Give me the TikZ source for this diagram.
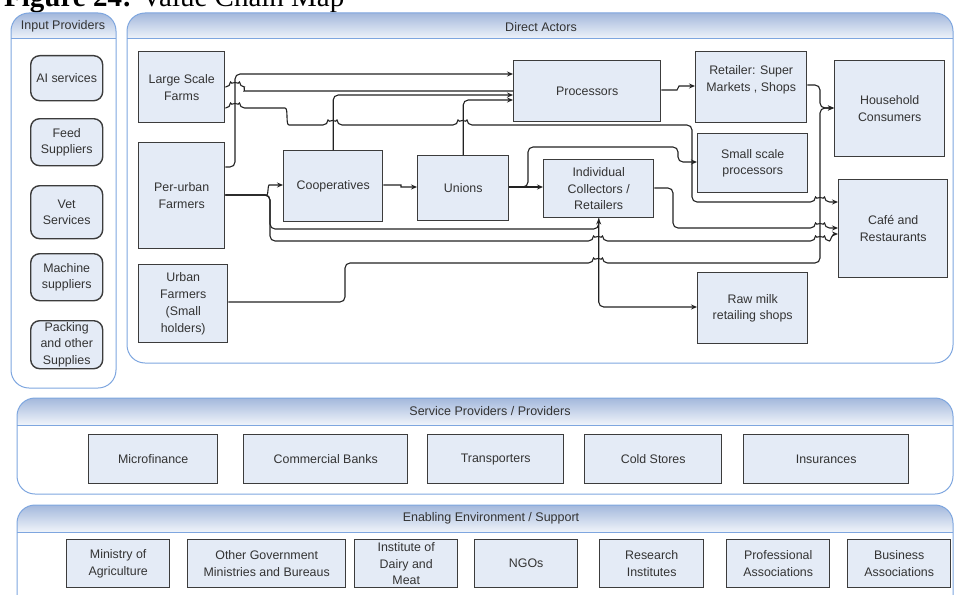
\documentclass[tikz,border=0pt]{standalone}
\usepackage{fontspec}
\setmainfont{Liberation Sans}
\newfontfamily\titlefont{Liberation Serif}
\usetikzlibrary{arrows.meta}

\definecolor{boxfill}{HTML}{E4EBF6}
\definecolor{boxline}{HTML}{3C3C3C}
\definecolor{flowc}{HTML}{222222}
\definecolor{panelc}{HTML}{7EA6DF}
\definecolor{hdrtop}{HTML}{A3B8DC}
\definecolor{hdrbot}{HTML}{F0F4FA}
\definecolor{txt}{HTML}{333333}

\tikzset{
  actor/.style={draw=boxline, fill=boxfill, line width=1.4pt, text=txt,
    align=center, inner sep=0pt, anchor=north west,
    font=\fontsize{12.4}{16.8}\selectfont},
  inbox/.style={actor, rounded corners=9pt},
  flow/.style={draw=flowc, line width=1.1pt, rounded corners=5pt},
  arr/.style={-{Stealth[length=6pt,width=5pt]}},
  panelline/.style={draw=panelc, line width=1pt},
  hdrtext/.style={text=txt, font=\fontsize{12.5}{15}\selectfont}
}

% a panel with a shaded header strip: corners, header bottom
\newcommand\panelbox[5]{%
  \begin{scope}
    \clip[rounded corners=18pt] (#1,#2) rectangle (#3,#4);
    \shade[top color=hdrtop, bottom color=hdrbot] (#1,#2) rectangle (#3,#5);
  \end{scope}
  \draw[panelline, rounded corners=18pt] (#1,#2) rectangle (#3,#4);
  \draw[panelline] (#1,#5) -- (#3,#5);
}

\begin{document}
\begin{tikzpicture}[x=1pt,y=-1pt]
\useasboundingbox (0,0) rectangle (955,594);

% caption
\node[anchor=base west, inner sep=0pt, font=\titlefont\fontsize{29}{32}\selectfont]
  (title) at (4,7) {\textbf{Figure 24:} Value Chain Map};

% panels
\panelbox{11}{13}{116}{388}{39}
\panelbox{127}{13}{953}{363}{39}
\panelbox{17}{398}{953}{494}{425}
\panelbox{17}{505}{953}{625}{532}

\node[hdrtext] (hin)  at (63,26)  {Input Providers};
\node[hdrtext] (hda)  at (541,27) {Direct Actors};
\node[hdrtext] (hsp)  at (490,411) {Service Providers / Providers};
\node[hdrtext] (hee)  at (491,518) {Enabling Environment / Support};

% input providers
\node[inbox, minimum width=72pt, minimum height=45pt] (ai)   at (30,55)  {AI services};
\node[inbox, minimum width=72pt, minimum height=47pt] (feed) at (30,118) {Feed\\Suppliers};
\node[inbox, minimum width=72pt, minimum height=53pt] (vet)  at (30,185) {Vet\\Services};
\node[inbox, minimum width=72pt, minimum height=47pt] (mach) at (30,253) {Machine\\suppliers};
\node[inbox, minimum width=72pt, minimum height=48pt] (pack) at (30,320) {Packing\\and other\\Supplies};

% direct actors
\node[actor, minimum width=86pt,  minimum height=71pt]  (lsf)  at (138,51)  {Large Scale\\Farms};
\node[actor, minimum width=86pt,  minimum height=106pt] (pu)   at (138,142) {Per-urban\\Farmers};
\node[actor, minimum width=89pt,  minimum height=78pt]  (uf)   at (138,264) {Urban\\Farmers\\(Small\\holders)};
\node[actor, minimum width=99pt,  minimum height=71pt]  (coop) at (283,150) {Cooperatives};
\node[actor, minimum width=91pt,  minimum height=65pt]  (uni)  at (417,155) {Unions};
\node[actor, minimum width=147pt, minimum height=61pt]  (proc) at (513,60)  {Processors};
\node[actor, minimum width=111pt, minimum height=71pt]  (ret)  at (695,51)  {Retailer: Super\\Markets , Shops\\\mbox{}};
\node[actor, minimum width=110pt, minimum height=96pt]  (hh)   at (834,60)  {Household\\Consumers};
\node[actor, minimum width=110pt, minimum height=59pt]  (ssp)  at (697,133) {Small scale\\processors};
\node[actor, minimum width=110pt, minimum height=58pt]  (coll) at (543,159) {Individual\\Collectors /\\Retailers};
\node[actor, minimum width=109pt, minimum height=98pt]  (cafe) at (838,179) {Café and\\Restaurants};
\node[actor, minimum width=110pt, minimum height=71pt]  (raw)  at (697,272) {Raw milk\\retailing shops};

% service providers
\node[actor, minimum width=129pt, minimum height=49pt] (mf)   at (88,434)  {Microfinance};
\node[actor, minimum width=164pt, minimum height=49pt] (cb)   at (243,434) {Commercial Banks};
\node[actor, minimum width=136pt, minimum height=49pt] (tr)   at (427,434) {Transporters};
\node[actor, minimum width=137pt, minimum height=49pt] (cs)   at (584,434) {Cold Stores};
\node[actor, minimum width=165pt, minimum height=49pt] (ins)  at (743,434) {Insurances};

% enabling environment
\node[actor, minimum width=103pt, minimum height=48pt] (moa)  at (66,539)  {Ministry of\\Agriculture};
\node[actor, minimum width=158pt, minimum height=48pt] (ogm)  at (187,539) {Other Government\\Ministries and Bureaus};
\node[actor, minimum width=103pt, minimum height=48pt] (idm)  at (354,539) {Institute of\\Dairy and\\Meat};
\node[actor, minimum width=103pt, minimum height=48pt] (ngo)  at (474,539) {NGOs};
\node[actor, minimum width=104pt, minimum height=48pt] (ri)   at (599,539) {Research\\Institutes};
\node[actor, minimum width=103pt, minimum height=48pt] (pa)   at (726,539) {Professional\\Associations};
\node[actor, minimum width=103pt, minimum height=48pt] (ba)   at (847,539) {Business\\Associations};

% flows between direct actors
\draw[flow, arr] (pu.east |- 0,167) -- (235,167) -- (235,74) -- (proc.west |- 0,74);
\draw[flow] (lsf.east |- 0,87) -- (230.5,87) arc[start angle=180, end angle=0, radius=4.5pt]
  to[out=0, in=180] (249,91) -- (proc.west |- 0,91);
\draw[flow, arr] (lsf.east |- 0,108) -- (230.5,108) arc[start angle=180, end angle=0, radius=4.5pt]
  -- (280,108) to[out=0, in=180] (294,125)
  -- (328,125) arc[start angle=180, end angle=0, radius=4.5pt]
  -- (458,125) arc[start angle=180, end angle=0, radius=4.5pt]
  -- (692,125) -- (692,202)
  -- (815.5,202) arc[start angle=180, end angle=0, radius=4.5pt] -- (cafe.west |- 0,202);
\draw[flow, arr] (pu.east |- 0,195) -- (262,195) to[out=0, in=180] (274,185) -- (coop.west |- 0,185);
\draw[flow, arr] (pu.east |- 0,195) -- (270,195) -- (270,229) -- (coll.south |- 0,229) -- (coll.south);
\draw[flow, arr] (pu.east |- 0,195) -- (270,195) -- (270,241)
  -- (593.5,241) arc[start angle=180, end angle=0, radius=4.5pt]
  -- (815.5,241) arc[start angle=180, end angle=0, radius=4.5pt]
  to[out=0, in=180] (cafe.west |- 0,234);
\draw[flow, arr] (coop.east |- 0,185) -- (396,185) to[out=0, in=180] (406,187) -- (uni.west |- 0,187);
\draw[flow, arr] (coop.north) |- (proc.west |- 0,95);
\draw[flow, arr] (uni.north) |- (proc.west |- 0,100);
\draw[flow, arr] (uni.east |- 0,187) -- (coll.west |- 0,187);
\draw[flow, arr] (uni.east |- 0,187) -- (528,187) -- (528,147) -- (678,147) -- (678,162) -- (ssp.west |- 0,162);
\draw[flow, arr] (proc.east |- 0,90) -- (672,90) to[out=0, in=180] (684,86) -- (ret.west |- 0,86);
\draw[flow, arr] (ret.east |- 0,85) -- (820,85) -- (820,108) -- (hh.west |- 0,108);
\draw[flow, arr] (uf.east |- 0,302) -- (345,302) -- (345,263)
  -- (593.5,263) arc[start angle=180, end angle=0, radius=4.5pt]
  -- (820,263) -- (820,108) -- (hh.west |- 0,108);
\draw[flow, arr] (coll.east |- 0,188) -- (673,188) -- (673,228)
  -- (815.5,228) arc[start angle=180, end angle=0, radius=4.5pt] -- (cafe.west |- 0,228);
\draw[flow, arr] (coll.south) |- (raw.west |- 0,307);
\end{tikzpicture}
\end{document}
